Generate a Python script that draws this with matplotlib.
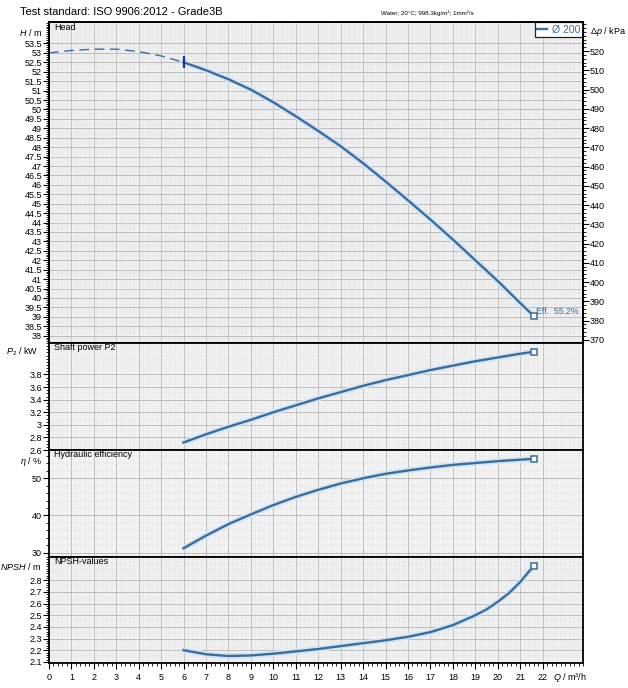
import matplotlib
matplotlib.use('Agg')
import matplotlib.pyplot as plt
from matplotlib.ticker import MultipleLocator, FixedLocator, FormatStrFormatter

plt.rcParams['font.family'] = ['Liberation Sans', 'DejaVu Sans']
plt.rcParams['mathtext.fontset'] = 'custom'
plt.rcParams['mathtext.rm'] = 'Liberation Sans'
plt.rcParams['mathtext.it'] = 'Liberation Sans:italic'

# curve data
q_dash = [0, 1, 2, 3, 4, 5, 6]
head_dash = [53.0, 53.13, 53.2, 53.2, 53.07, 52.84, 52.5]

q = [6, 7, 8, 9, 10, 11, 12, 13, 14, 15, 16, 17, 18, 19, 20, 21, 21.6]
head = [52.5, 52.08, 51.6, 51.05, 50.38, 49.64, 48.86, 48.05, 47.15, 46.18,
        45.18, 44.16, 43.1, 42.0, 40.9, 39.73, 39.05]
power = [2.72, 2.85, 2.97, 3.08, 3.2, 3.31, 3.42, 3.52, 3.62, 3.71,
         3.79, 3.87, 3.94, 4.01, 4.07, 4.13, 4.16]
eff = [31.2, 34.6, 37.7, 40.3, 42.8, 45.0, 46.9, 48.6, 50.0, 51.2,
       52.1, 52.9, 53.6, 54.1, 54.6, 55.0, 55.2]

q_npsh = [6, 7, 8, 9, 10, 11, 12, 13, 14, 15, 16, 17, 18, 19, 19.5, 20, 20.5,
          21, 21.3, 21.6]
npsh = [2.2, 2.165, 2.15, 2.155, 2.17, 2.19, 2.21, 2.235, 2.26, 2.285,
        2.315, 2.355, 2.415, 2.5, 2.55, 2.615, 2.69, 2.785, 2.855, 2.92]

x_ticks = list(range(0, 23))
head_ticks = [38 + 0.5 * i for i in range(32)]
kpa_ticks = list(range(370, 530, 10))
power_ticks = [2.6, 2.8, 3.0, 3.2, 3.4, 3.6, 3.8]
eff_ticks = [30, 40, 50]
npsh_ticks = [2.1, 2.2, 2.3, 2.4, 2.5, 2.6, 2.7, 2.8]

rho_g = 998.3 * 9.81 / 1000.0  # m -> kPa

W, H = 628, 688
blue = '#3a6d9f'
halo = '#d3e4f3'
fig = plt.figure(figsize=(W / 100, H / 100), dpi=100)


def px_axes(top, bottom):
    return fig.add_axes([49 / W, 1 - bottom / H, (583 - 49) / W, (bottom - top) / H])


def style(ax, ylim, ticks, minor, bottom_panel=False):
    ax.set_facecolor('#f3f3f3')
    ax.set_xlim(0, 23.8)
    ax.set_ylim(*ylim)
    ax.xaxis.set_major_locator(FixedLocator(x_ticks))
    ax.xaxis.set_minor_locator(MultipleLocator(0.2))
    ax.yaxis.set_major_locator(FixedLocator(ticks))
    ax.yaxis.set_minor_locator(MultipleLocator(minor))
    ax.yaxis.set_major_formatter(FormatStrFormatter('%g'))
    ax.grid(which='major', color='#b4b4b4', lw=0.6)
    ax.grid(which='minor', color='#e2e2e2', lw=0.35)
    ax.set_axisbelow(True)
    for s in ax.spines.values():
        s.set_linewidth(1.3)
    ax.tick_params(axis='y', which='major', length=4, width=0.8, labelsize=6.5, pad=1)
    ax.tick_params(axis='y', which='minor', length=2, width=0.6)
    if bottom_panel:
        ax.tick_params(axis='x', which='major', length=4, width=0.8, labelsize=6.5, pad=3)
        ax.tick_params(axis='x', which='minor', length=2.5, width=0.6)
    else:
        ax.tick_params(axis='x', which='both', bottom=False, labelbottom=False)


def curve(ax, x, y):
    ax.plot(x, y, color=halo, lw=4, solid_capstyle='round', zorder=2)
    line, = ax.plot(x, y, color=blue, lw=1.7, zorder=3)
    ax.plot(x[-1], y[-1], marker='s', ms=4, mfc='white', mec=blue, mew=1.1, zorder=4)
    return line


def panel_label(ax, text):
    ax.text(0.009, 0.997, text, transform=ax.transAxes, va='top', ha='left', fontsize=6.5)


def fig_text(x, y, s, **kw):
    fig.text(x / W, 1 - y / H, s, **kw)


# head panel
ax_h = px_axes(22, 343)
style(ax_h, (37.61, 54.64), head_ticks, 0.1)
ax_h.plot(q_dash, head_dash, color=blue, lw=1.0, dashes=(7, 4), zorder=3)
line_h = curve(ax_h, q, head)
line_h.set_label('Ø 200')
ax_h.plot(q[0], head[0], marker='|', ms=8, mew=1.6, color='#1c2fa0', zorder=5)
ax_h.annotate('Eff.  %.1f%%' % eff[-1], (q[-1], head[-1]), xytext=(2, 3),
              textcoords='offset points', fontsize=6.3, color=blue, va='center')
panel_label(ax_h, 'Head')
leg = ax_h.legend(loc='upper right', fontsize=7.5, handlelength=0.9, handletextpad=0.5,
                  borderpad=0.25, borderaxespad=0.0, fancybox=False, framealpha=1)
leg.get_frame().set_edgecolor('#202020')
leg.get_frame().set_linewidth(0.9)
for t in leg.get_texts():
    t.set_color(blue)

ax_k = ax_h.twinx()
ax_k.set_ylim(37.61 * rho_g, 54.64 * rho_g)
ax_k.yaxis.set_major_locator(FixedLocator(kpa_ticks))
ax_k.yaxis.set_minor_locator(MultipleLocator(2))
ax_k.tick_params(axis='y', which='major', length=4, width=0.8, labelsize=6.5, pad=1)
ax_k.tick_params(axis='y', which='minor', length=2, width=0.6)
for s in ax_k.spines.values():
    s.set_linewidth(1.3)

# shaft power
ax_p = px_axes(343, 450)
style(ax_p, (2.6, 4.3), power_ticks, 0.05)
curve(ax_p, q, power)
panel_label(ax_p, 'Shaft power P2')

# efficiency
ax_e = px_axes(450, 557)
style(ax_e, (28.84, 57.6), eff_ticks, 2)
curve(ax_e, q, eff)
panel_label(ax_e, 'Hydraulic efficiency')

# NPSH
ax_n = px_axes(557, 663)
style(ax_n, (2.09, 3.0), npsh_ticks, 0.02, bottom_panel=True)
curve(ax_n, q_npsh, npsh)
panel_label(ax_n, 'NPSH-values')

# texts around the chart
fig_text(20, 12, 'Test standard: ISO 9906:2012 - Grade3B', fontsize=8, va='center')
fig_text(427, 13, 'Water; 20°C; 998.3kg/m³; 1mm²/s', fontsize=4.5, ha='center', va='center')
fig_text(42, 32, '$H$ / m', fontsize=6.5, ha='right', va='center')
fig_text(590, 31, 'Δ$p$ / kPa', fontsize=6.5, ha='left', va='center')
fig_text(38, 352, '$P_2$ / kW', fontsize=6.5, ha='right', va='center')
fig_text(42, 461, '$\\eta$ / %', fontsize=6.5, ha='right', va='center')
fig_text(41, 566, '$NPSH$ / m', fontsize=6.5, ha='right', va='center')
fig_text(553, 677, '$Q$ / m³/h', fontsize=6.5, ha='left', va='center')

fig.savefig('out.png', dpi=100)
